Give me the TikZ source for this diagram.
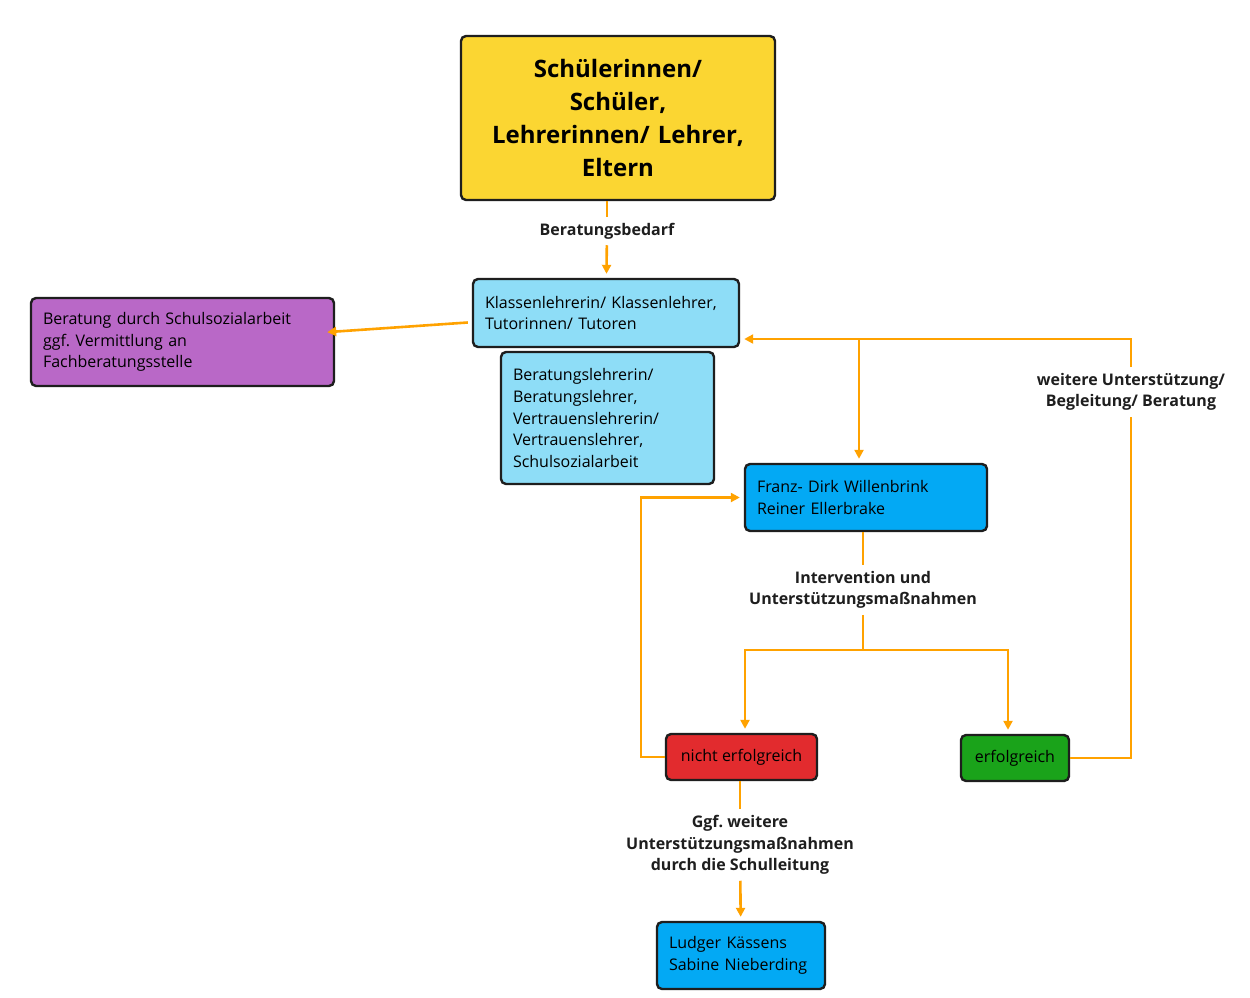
\documentclass[tikz,border=0pt]{standalone}
\usepackage{fontspec}
\setmainfont{Open Sans}
\frenchspacing
\usetikzlibrary{arrows.meta}
\definecolor{gelb}{RGB}{251,214,50}
\definecolor{hellblau}{RGB}{142,221,247}
\definecolor{blau}{RGB}{3,169,244}
\definecolor{lila}{RGB}{185,104,199}
\definecolor{rot}{RGB}{226,43,46}
\definecolor{gruen}{RGB}{26,163,26}
\definecolor{orangelinie}{RGB}{255,162,0}
\definecolor{rand}{RGB}{30,30,30}
\newcommand{\kastenschrift}{\fontsize{16}{21.7}\selectfont}
\newcommand{\titelschrift}{\fontsize{24}{33}\selectfont\bfseries}
\newcommand{\markenschrift}{\fontsize{16}{21.5}\selectfont\bfseries}
\tikzset{
    kasten/.style={draw=rand, line width=2.4pt, rounded corners=5pt, inner xsep=12pt, inner ysep=0pt, align=left, font=\kastenschrift},
    marke/.style={align=center, inner sep=6pt, text=rand, font=\markenschrift},
    linie/.style={draw=orangelinie, line width=2.6pt},
    pfeil/.style={linie, ->, shorten >=4pt},
}

\begin{document}
\begin{tikzpicture}[x=1pt, y=-1pt, >={Triangle[length=9pt,width=9pt]}]
        \path[use as bounding box, fill=white] (0,0) rectangle (1250,998);

        \node[kasten, fill=gelb, align=center, font=\titelschrift, minimum width=314pt, minimum height=164pt, text width=290pt] (SL) at (618,118) {Schülerinnen/\\ Schüler,\\ Lehrerinnen/ Lehrer,\\ Eltern};

        \node[kasten, fill=hellblau, minimum width=266pt, minimum height=68pt, text width=242pt] (KL) at (606,313) {Klassenlehrerin/ Klassenlehrer,\\ Tutorinnen/ Tutoren};
        \node[kasten, fill=hellblau, minimum width=213pt, minimum height=132pt, text width=189pt] (BL) at (607.5,418) {Beratungslehrerin/\\ Beratungslehrer,\\ Vertrauenslehrerin/\\ Vertrauenslehrer,\\ Schulsozialarbeit};
        \node[kasten, fill=lila, minimum width=303pt, minimum height=88pt, text width=279pt] (SSA) at (182.5,342) {Beratung durch Schulsozialarbeit\\ ggf. Vermittlung an\\ Fachberatungsstelle};

        \node[kasten, fill=blau, minimum width=242pt, minimum height=67pt, text width=218pt] (FW) at (866,497.5) {Franz- Dirk Willenbrink\\ Reiner Ellerbrake};
        \node[kasten, fill=rot, minimum width=151pt, minimum height=46pt] (NE) at (741.5,757) {nicht erfolgreich};
        \node[kasten, fill=gruen, minimum width=108pt, minimum height=46pt] (EG) at (1015,758) {erfolgreich};
        \node[kasten, fill=blau, minimum width=168pt, minimum height=67pt, text width=144pt] (LK) at (741,955.5) {Ludger Kässens\\ Sabine Nieberding};

        \node[marke] (bedarf) at (607,231) {Beratungsbedarf};
        \node[marke] (weiter) at (1131,392) {weitere Unterstützung/\\ Begleitung/ Beratung};
        \node[marke] (interv) at (863,590) {Intervention und\\ Unterstützungsmaßnahmen};
        \node[marke] (ggf) at (740,845) {Ggf. weitere\\ Unterstützungsmaßnahmen\\ durch die Schulleitung};

        \coordinate (J1) at (859,339);
        \coordinate (J2) at (863,650);

        \draw[linie] (SL.south -| bedarf) -- (bedarf);
        \draw[pfeil] (bedarf) -- (KL);
        \draw[pfeil, shorten <=4pt, shorten >=-8pt] (KL) -- (SSA);

        \draw[linie] (EG.east) -| (weiter);
        \draw[pfeil] (weiter) |- ([yshift=-26pt]KL.east);
        \draw[pfeil] (J1) -- (J1 |- FW.north);

        \draw[linie] (interv |- FW.south) -- (interv);
        \draw[linie] (interv) -- (J2);
        \draw[pfeil] (J2) -| ([xshift=3.5pt]NE.north);
        \draw[pfeil] (J2) -| ([xshift=-7pt]EG.north);
        \draw[pfeil] (NE.west) -- ++(-24,0) |- (FW.west);

        \draw[linie] (NE.south -| ggf) -- (ggf);
        \draw[pfeil] (ggf) -- (LK);
    \end{tikzpicture}
\end{document}
